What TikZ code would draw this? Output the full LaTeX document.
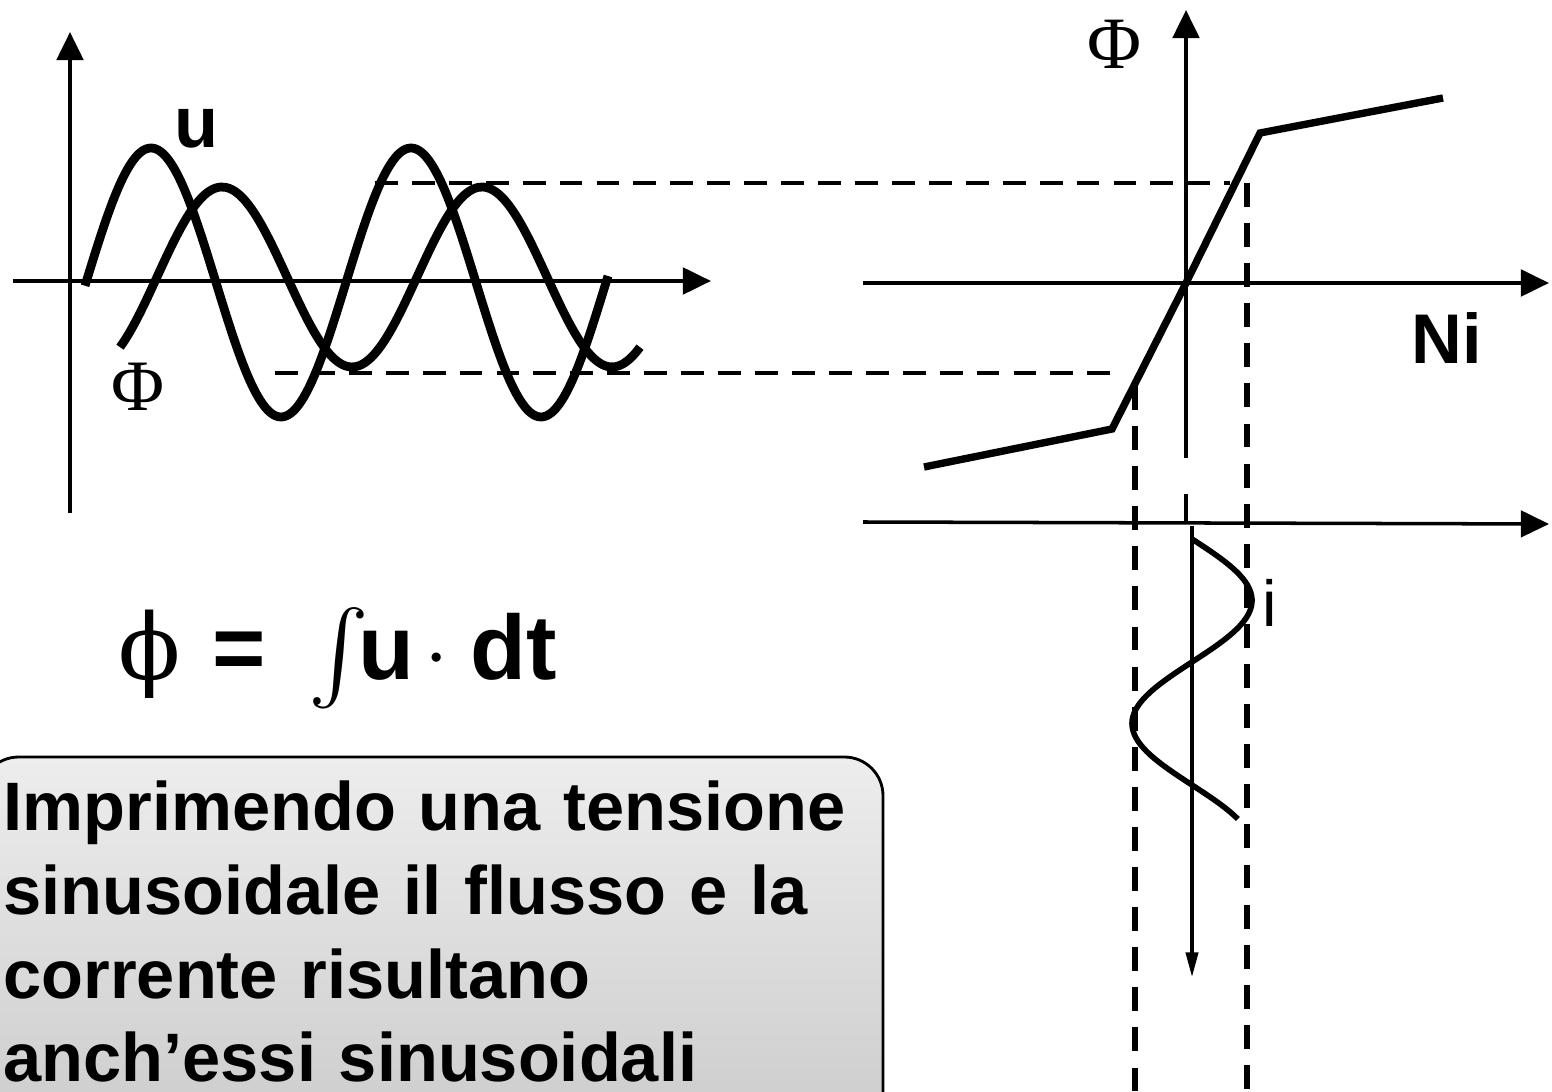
\documentclass[tikz,border=0pt]{standalone}
\usepackage{amsmath, amssymb}
\usepackage{fontspec}
\setmainfont{Liberation Sans}
\newfontfamily\phifont{DejaVu Serif}
\newfontfamily\greekfont{Liberation Serif}
\usepackage{tikz}
\usetikzlibrary{arrows.meta, positioning, calc}

\begin{document}
\begin{tikzpicture}[
        x=0.01cm, y=-0.01cm,
        axis/.style={line width=1.2pt, -{Triangle[length=8pt, width=7.5pt]}},
        taxis/.style={line width=0.9pt, -{Triangle[length=7pt, width=3.5pt]}},
        wave/.style={line width=2.5pt, line join=round},
        guide/.style={line width=1.3pt, dash pattern=on 6.5pt off 4pt},
        drop/.style={line width=1.8pt, dash pattern=on 6.8pt off 4.6pt},
        lbl/.style={inner sep=0pt},
        msgbox/.style={draw=black, line width=0.8pt, rounded corners=11pt, top color=black!7, bottom color=black!20},
        msgtext/.style={text width=245pt, align=left, inner xsep=6.5pt, inner ysep=1pt, font=\bfseries\fontsize{19.5}{23.8}\selectfont}
    ]
        \useasboundingbox (0,0) rectangle (1552,1092);
        \clip (0,0) rectangle (1552,1092);

        \coordinate (O1) at (70,281);
        \coordinate (O2) at (1186,283);
        \coordinate (O3) at (1186,524);
        \coordinate (phimax) at (375,183);
        \coordinate (phimin) at (275,373);
        \coordinate (kneeA) at (1230,183);
        \coordinate (kneeB) at (1119,373);
        \coordinate (dropA) at (1247,183);
        \coordinate (dropB) at (1135,386);

        \draw[axis] (70,513) -- (70,32);
        \draw[axis] (13,281) -- (711,281);
        \draw[wave] plot[domain=85:608, samples=120, smooth] (\x,{282.5-134.5*cos((\x-151)/260*360)});
        \draw[wave] plot[domain=120:640, samples=120, smooth] (\x,{277-90*cos((\x-222)/260*360)});
        \node[lbl, font=\bfseries\fontsize{20.5}{20.5}\selectfont] (ulbl) at (197,129) {u};
        \node[lbl, font=\greekfont\fontsize{20.6}{20.6}\selectfont] (philbl) at (138,387) {Φ};

        \draw[guide] (phimax) -- (kneeA);
        \draw[guide] (phimin) -- (kneeB);
        \draw[drop] (dropA) -- (dropA |- 0,1100);
        \draw[drop] (dropB) -- (dropB |- 0,1100);

        \draw[axis] (863,283) -- (1549,283);
        \draw[axis] (1186,458) -- (1186,10);
        \draw[line width=2.1pt, line join=miter] (924,467) -- (1112,429) -- (O2) -- (1260,133) -- (1443,98);
        \node[lbl, font=\greekfont\fontsize{21}{21}\selectfont] (phiaxis) at (1114,44) {Φ};
        \node[lbl, font=\bfseries\fontsize{20}{20}\selectfont] (nilbl) at (1447,338) {Ni};

        \draw[axis, line width=1pt] (863,522) -- (1549,524);
        \draw[line width=1pt] (1186,494) -- (O3);
        \draw[taxis] (1192,526) -- (1192,977);
        \draw[line width=1.6pt] plot[domain=539:819, samples=80, smooth] ({1192+60*sin((\x-539)/246*360)},\x);
        \node[lbl, font=\fontsize{18.5}{18.5}\selectfont] (ilbl) at (1270,603) {i};

        \node[lbl, anchor=base west, font=\bfseries\fontsize{26}{26}\selectfont] (law) at (118,680) {{\phifont\mdseries ϕ}\hspace{9pt}=\hspace{12pt}$\int$\hspace{-3pt}u\hspace{2.8pt}$\cdot$\hspace{6.3pt}dt};

        \path[msgbox] (-20,757) rectangle (883,1130);
        \node[msgtext, anchor=north west] (msg) at (-20,777) {Imprimendo una tensione\\ sinusoidale il flusso e la\\ corrente risultano\\ anch’essi sinusoidali};
    \end{tikzpicture}
\end{document}
